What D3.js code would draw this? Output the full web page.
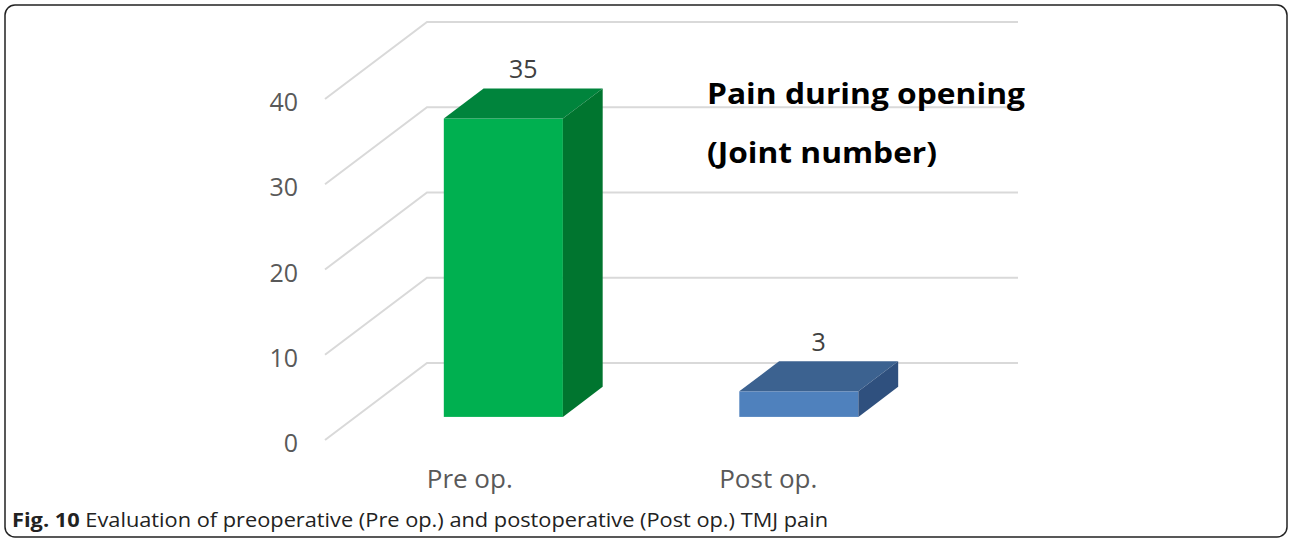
<!DOCTYPE html>
<html>
<head>
<meta charset="utf-8">
<script src="https://cdn.jsdelivr.net/npm/d3@7"></script>
<style>
  html, body { margin: 0; padding: 0; background: #fff; }
  svg { display: block; }
</style>
</head>
<body>
<svg id="chart" width="1290" height="541"></svg>
<script>
// data
const categories = ["Pre op.", "Post op."];
const values = [35, 3];
const yTicks = [0, 10, 20, 30, 40];
const frontColors = ["#00b050", "#4f81bd"];
const topColors = ["#00843c", "#3c6290"];
const sideColors = ["#00752f", "#2f507e"];
const titleLines = ["Pain during opening", "(Joint number)"];
const titleWidths = [318, 230];

const svg = d3.select("#chart");

// frame
svg.append("rect")
    .attr("x", 5).attr("y", 5)
    .attr("width", 1282).attr("height", 532)
    .attr("rx", 10).attr("ry", 10)
    .attr("fill", "#fff")
    .attr("stroke", "#222")
    .attr("stroke-width", 1.5);

// front plane of the plot and the depth of the 3D box
const left = 325, right = 916;
const depthX = 102, depthY = -77;
const barFrom = 0.3, barTo = 0.69;   // bar position inside the depth

const x = d3.scaleBand().domain(categories).range([left, right]).padding(0);
const y = d3.scaleLinear().domain([0, 40]).range([440, 99]);

// gridlines: diagonal on the left wall + horizontal on the back wall
const grid = svg.append("g").attr("stroke", "#d9d9d9").attr("stroke-width", 2).attr("fill", "none");
yTicks.forEach(t => {
    grid.append("path")
        .attr("d", `M${left},${y(t)} L${left + depthX},${y(t) + depthY} L${right + depthX},${y(t) + depthY}`);
});

// y tick labels
svg.append("g").selectAll("text")
    .data(yTicks)
    .enter().append("text")
    .attr("x", 298)
    .attr("y", d => y(d) + 12)
    .attr("text-anchor", "end")
    .attr("font-family", "Open Sans, sans-serif")
    .attr("font-size", 25)
    .attr("fill", "#595959")
    .text(d => d);

// bars
const bw = x.bandwidth() * 0.403;
const bdx = depthX * (barTo - barFrom), bdy = depthY * (barTo - barFrom);
const bars = svg.append("g");
categories.forEach((c, i) => {
    const cx = x(c) + x.bandwidth() / 2 + depthX * barFrom;
    const x0 = cx - bw / 2, x1 = cx + bw / 2;
    const yb = y(0) + depthY * barFrom;
    const yt = y(values[i]) + depthY * barFrom;
    // front
    bars.append("rect")
        .attr("x", x0).attr("y", yt)
        .attr("width", bw).attr("height", yb - yt)
        .attr("fill", frontColors[i]);
    // top
    bars.append("path")
        .attr("d", `M${x0},${yt} L${x1},${yt} L${x1 + bdx},${yt + bdy} L${x0 + bdx},${yt + bdy} Z`)
        .attr("fill", topColors[i]);
    // side
    bars.append("path")
        .attr("d", `M${x1},${yt} L${x1 + bdx},${yt + bdy} L${x1 + bdx},${yb + bdy} L${x1},${yb} Z`)
        .attr("fill", sideColors[i]);
    // value label
    svg.append("text")
        .attr("x", cx + bdx / 2)
        .attr("y", yt + bdy - 10)
        .attr("text-anchor", "middle")
        .attr("font-family", "Open Sans, sans-serif")
        .attr("font-size", 25)
        .attr("fill", "#404040")
        .text(values[i]);
});

// category labels
svg.append("g").selectAll("text")
    .data(categories)
    .enter().append("text")
    .attr("x", (d, i) => x(d) + x.bandwidth() / 2 - 3 + i * 3)
    .attr("y", 488)
    .attr("text-anchor", "middle")
    .attr("font-family", "Open Sans, sans-serif")
    .attr("font-size", 26)
    .attr("fill", "#595959")
    .text(d => d);

// title inside the plot
svg.append("g").selectAll("text")
    .data(titleLines)
    .enter().append("text")
    .attr("x", 707)
    .attr("y", (d, i) => 104 + i * 59)
    .attr("font-family", "Open Sans, sans-serif")
    .attr("font-weight", "bold")
    .attr("font-size", 29)
    .attr("textLength", (d, i) => titleWidths[i])
    .attr("lengthAdjust", "spacingAndGlyphs")
    .attr("fill", "#000")
    .text(d => d);

// caption
const cap = svg.append("text")
    .attr("x", 12).attr("y", 527)
    .attr("font-family", "Liberation Sans Narrow, Open Sans, sans-serif")
    .attr("font-size", 20)
    .attr("textLength", 816)
    .attr("lengthAdjust", "spacingAndGlyphs")
    .attr("fill", "#222");
cap.append("tspan").attr("font-weight", "bold").text("Fig. 10");
cap.append("tspan").text(" Evaluation of preoperative (Pre op.) and postoperative (Post op.) TMJ pain");
</script>
</body>
</html>
